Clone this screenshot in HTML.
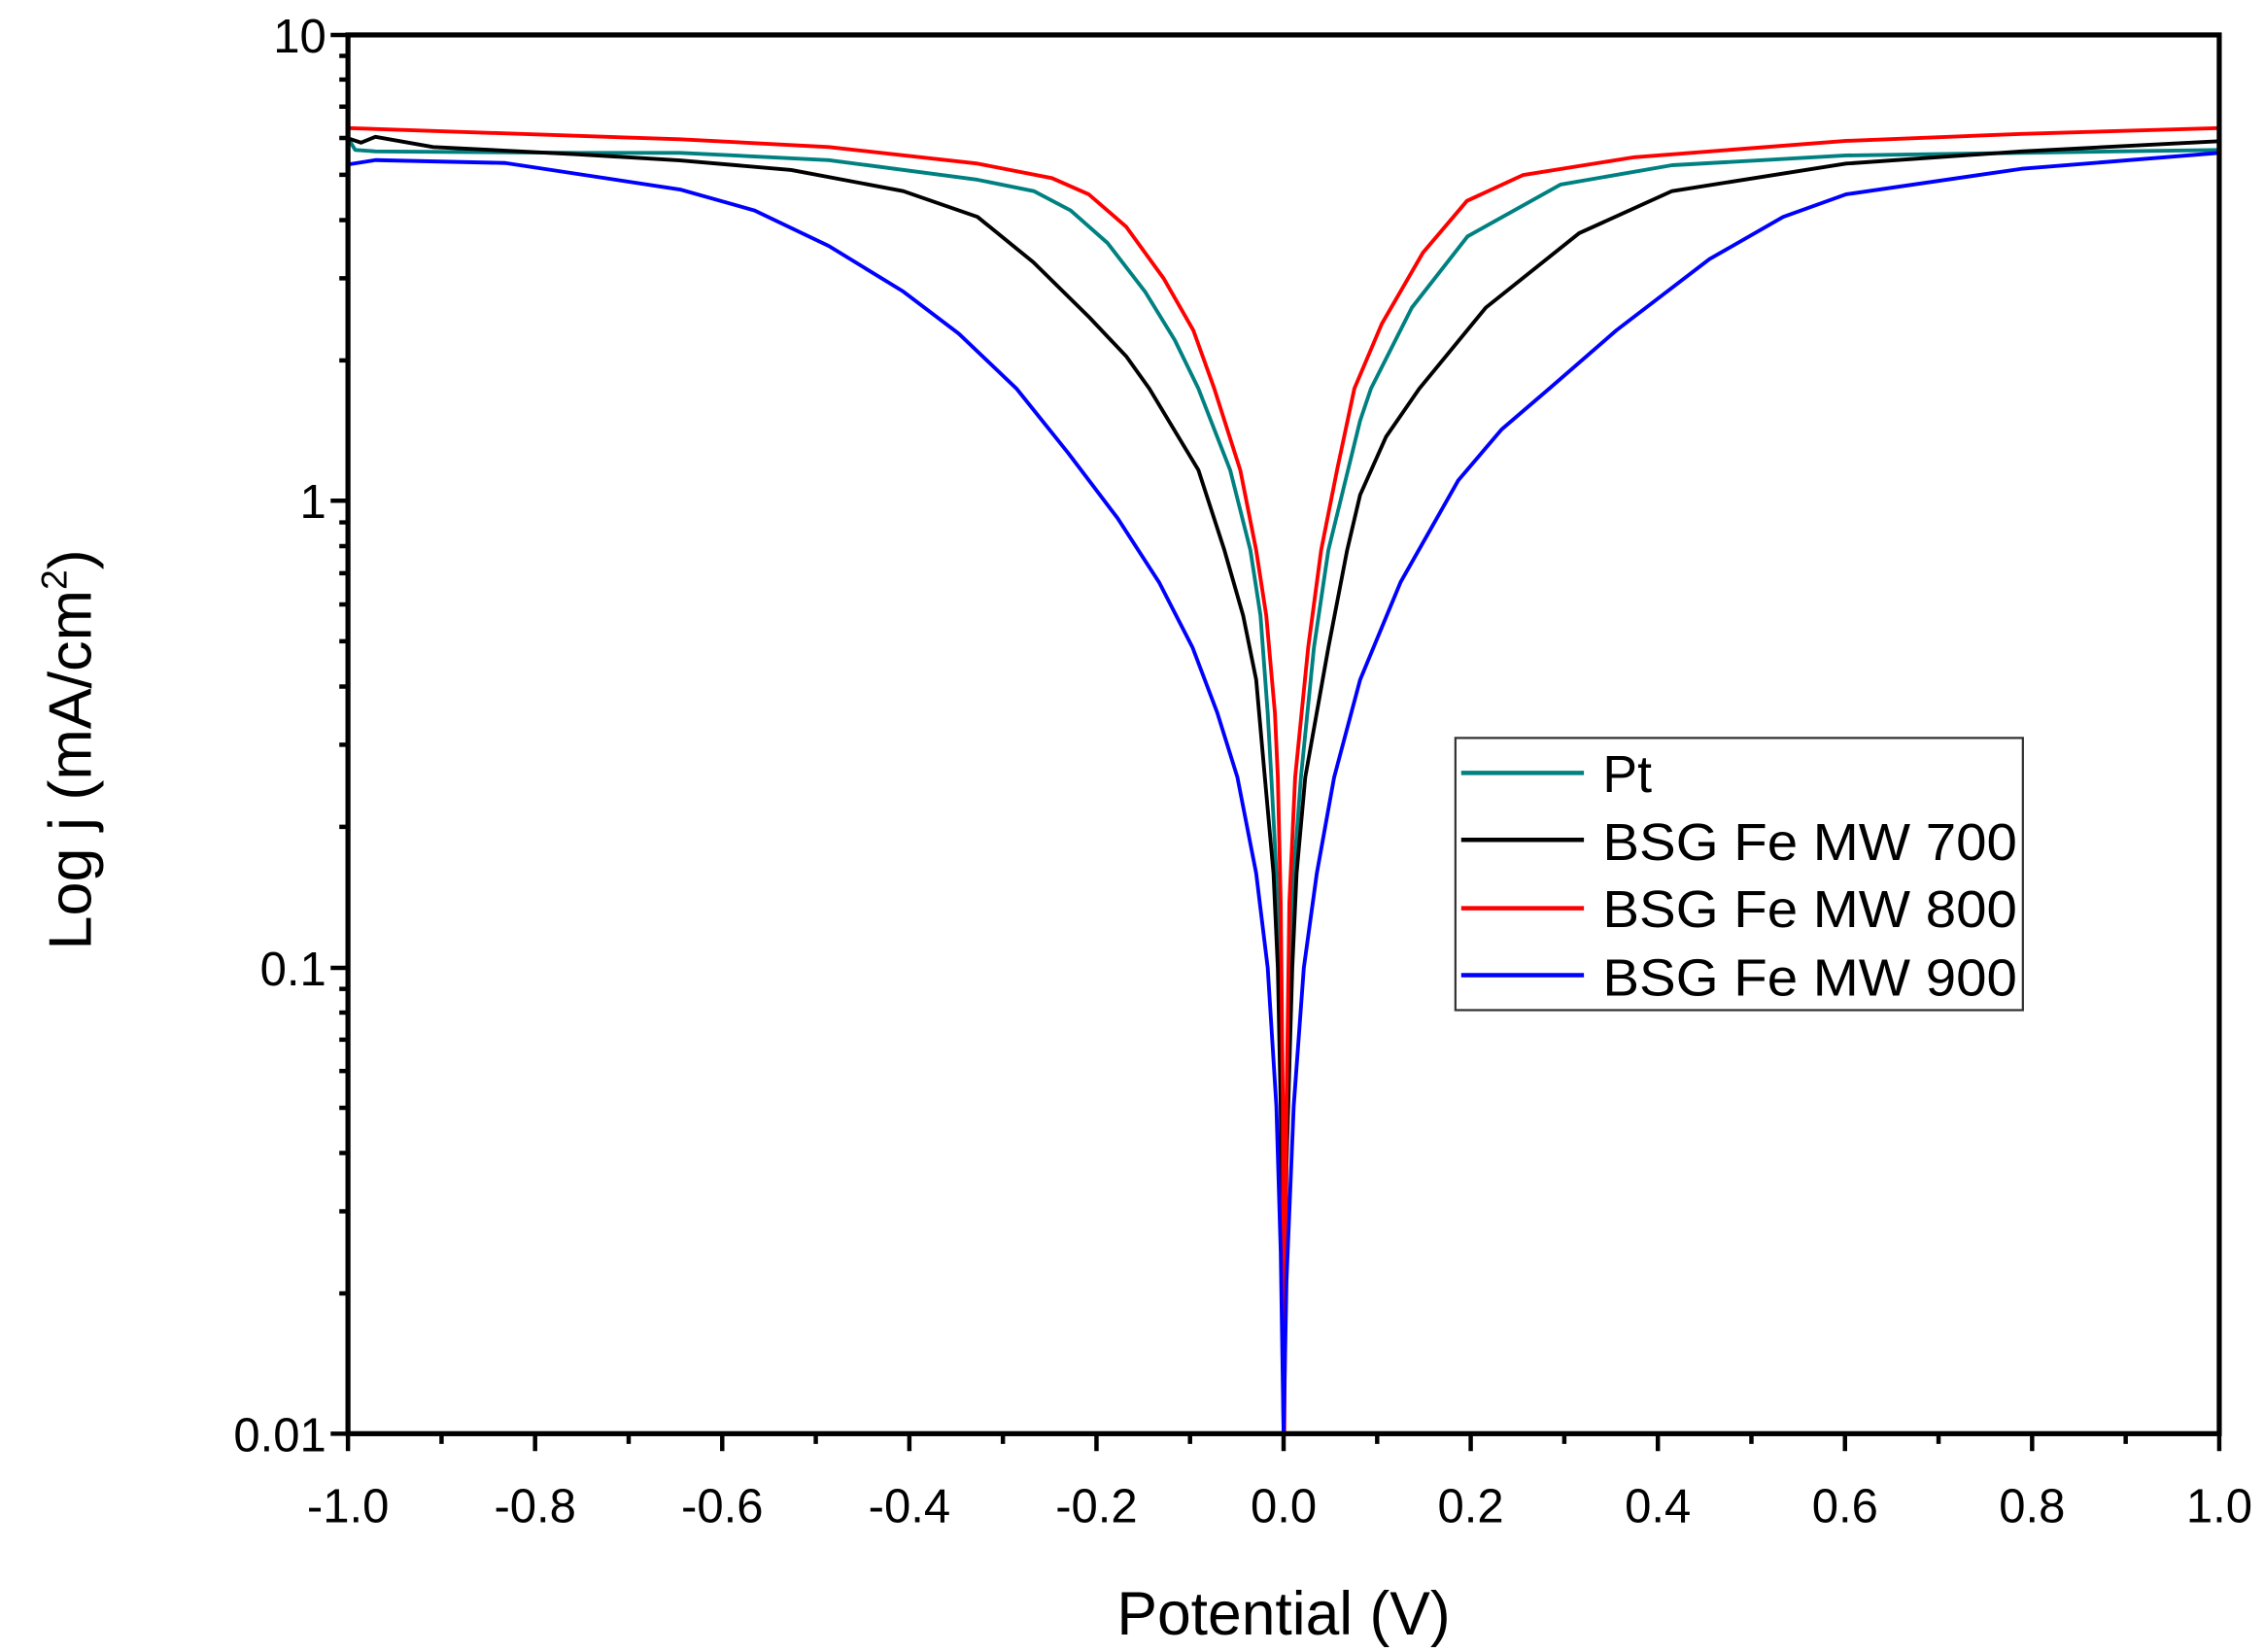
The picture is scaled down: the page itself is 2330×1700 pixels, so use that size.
<!DOCTYPE html>
<html><head><meta charset="utf-8"><style>html,body{margin:0;padding:0;background:#fff}svg{display:block}</style></head>
<body>
<svg width="2330" height="1700" viewBox="0 0 1568 1135" preserveAspectRatio="none" xmlns="http://www.w3.org/2000/svg" font-family="'Liberation Sans', sans-serif">
<rect width="1568" height="1135" fill="#fff"/>
<g fill="none" stroke-width="2.6" stroke-linejoin="round">
<path stroke="#008080" d="M241,95 L246,103 L260,104 L400,105 L471,105 L574,110 L677,123.5 L716,131.3 L741.5,144.6 L767,166.9 L793,200.3 L813.6,233.6 L830,267 L852,323 L866,378 L873,423 L878,490 L880.5,534 L884,600 L886,665 L888,780 L889,985 L890,800 L893,680 L896,600 L901,534 L910,445 L920,378 L942,289 L949.5,267 L977.8,211.4 L1016.4,162.4 L1080.8,126.8 L1158,113.5 L1278.6,106.8 L1400,105 L1537,103"/>
<path stroke="#000" d="M241,95 L250,98 L260,94 L300,101 L400,106 L471,110.2 L548,116.8 L625.6,131.3 L677,149 L715.7,180.2 L754.4,218 L780,244.8 L796,267 L830,323 L848,378 L861,423 L870,467 L876,534 L882,600 L885,665 L887,760 L889,985 L891,800 L895,665 L898,600 L904,534 L920,445 L933,378 L942,340 L960,300 L983,267 L1029,211.4 L1093.7,160.2 L1158,131.3 L1278.6,112.4 L1400,104 L1537,97"/>
<path stroke="#ff0000" d="M241,88 L471,95.7 L574,101 L677,112.4 L728.6,122.4 L754,133.5 L780,155.8 L806,191.4 L826.5,227 L841,267 L859,323 L870,378 L877,423 L883,490 L885,534 L887,620 L888.5,760 L889,985 L889.5,985 L891,760 L893,620 L897,534 L906,445 L915,378 L926,323 L938,267 L957,222.5 L985.5,173.6 L1016,138 L1055,120.2 L1132,108 L1278.6,96.8 L1400,92 L1537,88"/>
<path stroke="#0000ff" d="M241,113 L260,110 L350,112 L471,130.2 L522.6,144.6 L574,169 L625.6,200.3 L664,229.2 L704,267 L740,311.5 L774,356 L803,400.5 L826,445 L843,489.5 L857,534 L870,600 L878,665 L884,760 L887,860 L889,985 L891,880 L896,760 L903,665 L912,600 L924,534 L942,467 L970,400 L1010,330 L1040,295 L1073,267 L1119.4,227 L1184,178 L1235,149 L1278.6,133.5 L1400,116 L1537,105"/>
</g>
<rect x="241" y="24" width="1296" height="961" fill="none" stroke="#000" stroke-width="3.5"/>
<g stroke="#000" stroke-width="3">
<path d="M229,24H241M229,344H241M229,665H241M229,985H241"/>
<g id="mn"><path d="M235,888.6H241M235,832.2H241M235,792.2H241M235,761.1H241M235,735.8H241M235,714.3H241M235,695.7H241M235,679.4H241"/></g>
<use href="#mn" y="-320.5"/><use href="#mn" y="-641"/>
<path d="M241,985V997M370.6,985V997M500.2,985V997M629.8,985V997M759.4,985V997M889,985V997M1018.6,985V997M1148.2,985V997M1277.8,985V997M1407.4,985V997M1537,985V997"/>
<path d="M305.8,985V992M435.4,985V992M565,985V992M694.6,985V992M824.2,985V992M953.8,985V992M1083.4,985V992M1213,985V992M1342.6,985V992M1472.2,985V992"/>
</g>
<g font-size="33" fill="#000" text-anchor="end">
<text x="226" y="36">10</text><text x="226" y="356">1</text><text x="226" y="677">0.1</text><text x="226" y="997">0.01</text>
</g>
<g font-size="33" fill="#000" text-anchor="middle">
<text x="241" y="1046">-1.0</text><text x="370.6" y="1046">-0.8</text><text x="500.2" y="1046">-0.6</text><text x="629.8" y="1046">-0.4</text><text x="759.4" y="1046">-0.2</text><text x="889" y="1046">0.0</text><text x="1018.6" y="1046">0.2</text><text x="1148.2" y="1046">0.4</text><text x="1277.8" y="1046">0.6</text><text x="1407.4" y="1046">0.8</text><text x="1537" y="1046">1.0</text>
</g>
<text x="889" y="1123" font-size="42" text-anchor="middle">Potential (V)</text>
<text transform="translate(63,515) rotate(-90)" font-size="42" text-anchor="middle">Log j (mA/cm<tspan font-size="25" dy="-17">2</tspan><tspan dy="17">)</tspan></text>
<rect x="1008" y="507" width="393" height="187" fill="#fff" stroke="#333" stroke-width="1.5"/>
<g stroke-width="3"><path stroke="#008080" d="M1012,531H1097"/><path stroke="#000" d="M1012,577H1097"/><path stroke="#ff0000" d="M1012,624H1097"/><path stroke="#0000ff" d="M1012,670H1097"/></g>
<g font-size="36" fill="#000">
<text x="1110" y="544">Pt</text>
<text x="1110" y="591" textLength="287" lengthAdjust="spacingAndGlyphs">BSG Fe MW 700</text>
<text x="1110" y="637" textLength="287" lengthAdjust="spacingAndGlyphs">BSG Fe MW 800</text>
<text x="1110" y="684" textLength="287" lengthAdjust="spacingAndGlyphs">BSG Fe MW 900</text>
</g>
</svg>
</body></html>
